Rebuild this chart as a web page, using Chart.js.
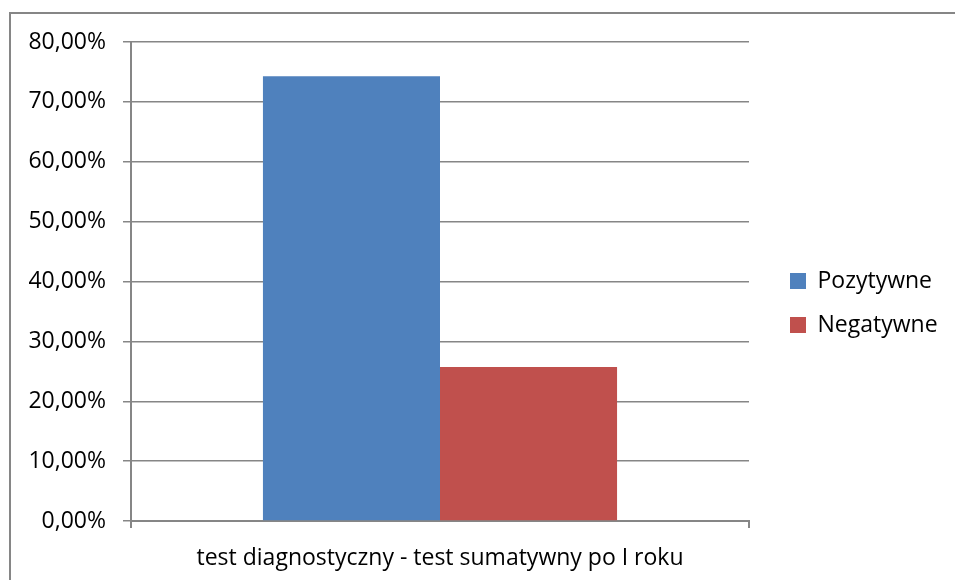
<!DOCTYPE html>
<html>
<head>
<meta charset="utf-8">
<script src="https://cdn.jsdelivr.net/npm/chart.js@4/dist/chart.umd.min.js"></script>
<style>
  html, body { margin: 0; padding: 0; background: #fff; overflow: hidden; }
  #wrap { width: 955px; height: 580px; position: relative; }
</style>
</head>
<body>
<div id="wrap"><canvas id="myChart" width="955" height="580"></canvas></div>
<script>
// Data
const categories = ['test diagnostyczny - test sumatywny po I roku'];
const pozytywne = [74.3];
const negatywne = [25.7];
const seriesNames = ['Pozytywne', 'Negatywne'];
const yTicks = [0, 10, 20, 30, 40, 50, 60, 70, 80];

const FONT = "'Open Sans', sans-serif";
const FSIZE = 23;
const gray = '#868686';
const legPad = 21;

// outer frame of the chart object (runs off the right and bottom edge)
const frame = {
    id: 'frame',
    beforeDraw(chart) {
        const c = chart.ctx;
        c.save();
        c.fillStyle = '#fff';
        c.fillRect(0, 0, chart.width, chart.height);
        c.fillStyle = gray;
        c.fillRect(9, 12, 2, chart.height - 12);
        c.fillRect(9, 12, chart.width - 9, 2);
        c.restore();
    }
};

Chart.defaults.font.family = FONT;
Chart.defaults.font.size = FSIZE;
Chart.defaults.color = '#000';

const data = {
    labels: categories,
    datasets: [{
        label: seriesNames[0],
        backgroundColor: '#4F81BD',
        data: pozytywne
    }, {
        label: seriesNames[1],
        backgroundColor: '#C0504D',
        data: negatywne
    }]
};

// empty spacer axes (no ticks, no lines) only to reserve room
const spacer = size => ({
    display: true,
    grid: { display: false },
    border: { display: false },
    ticks: { display: false },
    afterFit: s => { if (s.isHorizontal()) s.height = size; else s.width = size; }
});

const config = {
    type: 'bar',
    data: data,
    plugins: [frame],
    options: {
        responsive: false,
        animation: false,
        categoryPercentage: 0.573,
        barPercentage: 1,
        layout: { padding: { top: 26, left: 0, right: 0, bottom: 0 } },
        plugins: {
            tooltip: { enabled: false },
            legend: {
                position: 'right',
                maxWidth: 400,
                labels: { boxWidth: 16, boxHeight: 16, padding: legPad, color: '#000' }
            }
        },
        scales: {
            x: {
                grid: { drawOnChartArea: false, drawTicks: true, tickLength: 7, color: gray, lineWidth: 2 },
                border: { display: true, color: gray, width: 2 },
                ticks: { padding: 17, color: '#000' },
                afterFit: s => { s.height = 580 - 521; }
            },
            y: {
                min: 0,
                max: 80,
                afterBuildTicks: s => { s.ticks = yTicks.map(v => ({ value: v })); },
                grid: { color: gray, lineWidth: 1.5, tickLength: 8 },
                border: { display: true, color: gray, width: 2 },
                ticks: {
                    padding: 17,
                    color: '#000',
                    callback: v => v.toFixed(2).replace('.', ',') + '%'
                },
                afterFit: s => { s.width = 131; }
            },
            x2: Object.assign({ type: 'category', position: 'top' }, spacer(16)),
            y2: Object.assign({ type: 'linear', position: 'right' }, spacer(20))
        }
    }
};

const myChart = new Chart(document.getElementById('myChart'), config);

// second pass: pad on the right so the plot ends at x=749
const padRight = Math.max(0, 955 - 769 - myChart.legend.width);
myChart.options.layout.padding.right = padRight;
myChart.update();
</script>
</body>
</html>
